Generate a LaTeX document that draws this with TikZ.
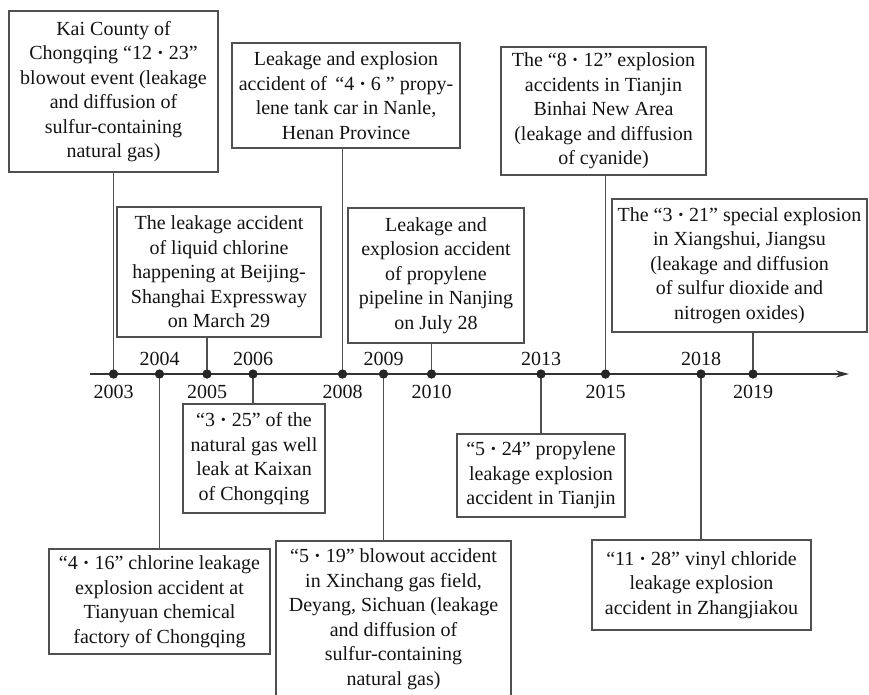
\documentclass[tikz,border=0pt]{standalone}
\usepackage{fontspec}
\setmainfont{Liberation Serif}
\usetikzlibrary{arrows.meta}
\definecolor{linegray}{HTML}{505050}
\definecolor{txt}{HTML}{141414}
\newcommand{\mdt}{{\bfseries ·}}
\tikzset{
  evbox/.style={draw=linegray, line width=1.3pt, fill=white, inner sep=0pt, align=center,
    text=txt, font={\fontsize{20pt}{24.5pt}\selectfont}},
  yr/.style={inner sep=0pt, text=txt, font={\fontsize{20pt}{24pt}\selectfont}},
  tdot/.style={circle, fill=black!85, inner sep=0pt, minimum size=9pt},
  conn/.style={draw=linegray, line width=1.3pt},
  axisline/.style={draw=black!80, line width=2.2pt, -{Stealth[length=13pt,width=7pt]}}
}
\begin{document}
\begin{tikzpicture}[x=1pt,y=-1pt]
\useasboundingbox (0,0) rectangle (869,694);
\clip (0,0) rectangle (869,694);
% axis
\coordinate (axs) at (90,374);
\coordinate (axe) at (849,374);
\draw[axisline] (axs) -- (axe);
% dots
\node[tdot] (d2003) at (113.5,374) {};
\node[tdot] (d2004) at (159.5,374) {};
\node[tdot] (d2005) at (207,374) {};
\node[tdot] (d2006) at (253,374) {};
\node[tdot] (d2008) at (342.5,374) {};
\node[tdot] (d2009) at (383.5,374) {};
\node[tdot] (d2010) at (431.5,374) {};
\node[tdot] (d2013) at (541,374) {};
\node[tdot] (d2015) at (605.5,374) {};
\node[tdot] (d2018) at (701,374) {};
\node[tdot] (d2019) at (753,374) {};
% year labels
\node[yr] (y2003) at (113.5,392) {2003};
\node[yr] (y2004) at (159.5,359) {2004};
\node[yr] (y2005) at (207,392) {2005};
\node[yr] (y2006) at (253,359) {2006};
\node[yr] (y2008) at (342.5,392) {2008};
\node[yr] (y2009) at (383.5,359) {2009};
\node[yr] (y2010) at (431.5,392) {2010};
\node[yr] (y2013) at (541,359) {2013};
\node[yr] (y2015) at (605.5,392) {2015};
\node[yr] (y2018) at (701,359) {2018};
\node[yr] (y2019) at (753,392) {2019};
% boxes above
\node[evbox, minimum width=209pt, minimum height=161pt] (b1) at (113.5,91.5)
  {Kai County of\\Chongqing “12 \mdt{} 23”\\blowout event (leakage\\and diffusion of\\sulfur-containing\\natural gas)};
\node[evbox, minimum width=228pt, minimum height=105pt] (b2) at (346,95.5)
  {Leakage and explosion\\accident of \,“4 \mdt{} 6 ” propy-\\lene tank car in Nanle,\\Henan Province};
\node[evbox, minimum width=204pt, minimum height=130pt] (b3) at (219,272)
  {The leakage accident\\of liquid chlorine\\happening at Beijing-\\Shanghai Expressway\\on March 29};
\node[evbox, minimum width=176pt, minimum height=135pt] (b4) at (436,275.5)
  {Leakage and\\explosion accident\\of propylene\\pipeline in Nanjing\\on July 28};
\node[evbox, minimum width=205pt, minimum height=128pt] (b5) at (603.5,111)
  {The “8 \mdt{} 12” explosion\\accidents in Tianjin\\Binhai New Area\\(leakage and diffusion\\of cyanide)};
\node[evbox, minimum width=255pt, minimum height=133pt] (b6) at (739.5,265.5)
  {The “3 \mdt{} 21” special explosion\\in Xiangshui, Jiangsu\\(leakage and diffusion\\of sulfur dioxide and\\nitrogen oxides)};
% boxes below
\node[evbox, minimum width=142pt, minimum height=109pt] (b7) at (254,458.5)
  {“3 \mdt{} 25” of the\\natural gas well\\leak at Kaixan\\of Chongqing};
\node[evbox, minimum width=221pt, minimum height=105pt] (b8) at (159.5,601.5)
  {“4 \mdt{} 16” chlorine leakage\\explosion accident at\\Tianyuan chemical\\factory of Chongqing};
\node[evbox, minimum width=235pt, minimum height=156pt] (b9) at (393.5,619)
  {“5 \mdt{} 19” blowout accident\\in Xinchang gas field,\\Deyang, Sichuan (leakage\\and diffusion of\\sulfur-containing\\natural gas)};
\node[evbox, minimum width=168pt, minimum height=83pt] (b10) at (541,475.5)
  {“5 \mdt{} 24” propylene\\leakage explosion\\accident in Tianjin};
\node[evbox, minimum width=219pt, minimum height=90pt] (b11) at (701.5,585)
  {“11 \mdt{} 28” vinyl chloride\\leakage explosion\\accident in Zhangjiakou};
% connectors
\draw[conn] (b1.south -| d2003) -- (d2003.center);
\draw[conn] (b2.south -| d2008) -- (d2008.center);
\draw[conn] (b3.south -| d2005) -- (d2005.center);
\draw[conn] (b4.south -| d2010) -- (d2010.center);
\draw[conn] (b5.south -| d2015) -- (d2015.center);
\draw[conn] (b6.south -| d2019) -- (d2019.center);
\draw[conn] (d2006.center) -- (b7.north -| d2006);
\draw[conn] (d2004.center) -- (b8.north -| d2004);
\draw[conn] (d2009.center) -- (b9.north -| d2009);
\draw[conn] (d2013.center) -- (b10.north -| d2013);
\draw[conn] (d2018.center) -- (b11.north -| d2018);
% redraw dots on top
\foreach \d in {d2003,d2004,d2005,d2006,d2008,d2009,d2010,d2013,d2015,d2018,d2019}
  \fill[black!85] (\d.center) circle (4.5pt);
\end{tikzpicture}
\end{document}
